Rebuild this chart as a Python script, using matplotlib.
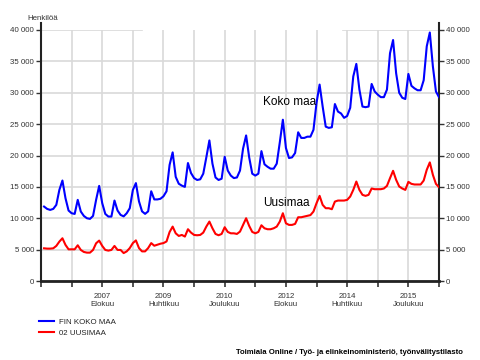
import matplotlib
matplotlib.use('Agg')
import matplotlib.pyplot as plt
from matplotlib.ticker import FuncFormatter
from matplotlib.lines import Line2D

plt.rcParams['font.family'] = ['Liberation Sans', 'DejaVu Sans']

# Kuukausittaiset arvot, tammikuu 2006 - lokakuu 2016 (Henkilöä)
koko_maa = [
    11860, 11490, 11330, 11490, 12130, 14520, 16010, 13190, 11230, 10800, 10690, 12930,  # 2006
    11070, 10370, 10000, 9900, 10370, 12930, 15160, 12400, 10690, 10270, 10270, 12820,   # 2007
    11230, 10530, 10300, 10800, 11600, 14500, 15600, 12700, 11100, 10700, 11100, 14300,  # 2008
    13000, 13000, 13100, 13500, 14300, 18500, 20500, 16600, 15500, 15200, 15000, 18800,  # 2009
    17200, 16400, 16100, 16200, 17100, 19700, 22400, 18700, 16500, 16100, 16300, 19800,  # 2010
    17600, 16800, 16400, 16500, 17600, 21100, 23200, 19700, 17100, 16800, 17100, 20700,  # 2011
    18600, 18200, 17900, 17900, 18700, 22100, 25700, 21200, 19600, 19700, 20400, 23700,  # 2012
    22800, 22800, 23000, 23000, 24100, 28400, 31300, 27800, 24600, 24400, 24500, 28200,  # 2013
    27000, 26700, 26000, 26300, 27600, 32600, 34600, 30500, 27800, 27700, 27800, 31400,  # 2014
    30200, 29700, 29300, 29300, 30500, 36300, 38400, 33100, 30000, 29200, 29000, 33000,  # 2015
    31100, 30700, 30400, 30400, 32000, 37400, 39600, 34200, 30200, 29300,                # 2016
]
uusimaa = [
    5210, 5160, 5160, 5210, 5590, 6280, 6810, 5750, 5050, 5050, 5050, 5690,
    4950, 4630, 4520, 4520, 4950, 6010, 6440, 5590, 4950, 4840, 4950, 5590,
    4950, 4950, 4450, 4720, 5250, 6040, 6470, 5250, 4720, 4720, 5250, 6040,
    5620, 5780, 5940, 6040, 6300, 7800, 8670, 7600, 7180, 7340, 7080, 8250,
    7710, 7340, 7290, 7340, 7710, 8670, 9470, 8400, 7500, 7290, 7500, 8570,
    7820, 7600, 7600, 7500, 7870, 8940, 10000, 8780, 7820, 7600, 7820, 8880,
    8400, 8250, 8250, 8400, 8670, 9470, 10800, 9200, 8940, 8940, 9100, 10160,
    10160, 10270, 10370, 10500, 11070, 12400, 13570, 12130, 11600, 11600, 11440, 12660,
    12820, 12820, 12820, 12930, 13460, 14520, 15850, 14520, 13730, 13570, 13730, 14740,
    14630, 14630, 14630, 14740, 15160, 16390, 17560, 16120, 15060, 14740, 14520, 15800,
    15480, 15380, 15380, 15380, 16010, 17720, 18900, 16920, 15480, 14950,
]
nimikkeet = ['2007\nElokuu', '2009\nHuhtikuu', '2010\nJoulukuu',
             '2012\nElokuu', '2014\nHuhtikuu', '2015\nJoulukuu']
sarjat = ['FIN KOKO MAA', '02 UUSIMAA']

kk = list(range(len(koko_maa)))

fig = plt.figure(figsize=(4.8, 3.6), dpi=100)
ax = fig.add_axes([41 / 480, 1 - 281 / 360, 398 / 480, 251 / 360])

ax.plot(kk, koko_maa, color='#0000ff', lw=1.5, zorder=3)
ax.plot(kk, uusimaa, color='#ff0000', lw=1.5, zorder=3)

# Akselit
ax.set_xlim(-1, 129)
ax.set_ylim(0, 40000)
ax.set_yticks(range(0, 40001, 5000))
ax.yaxis.set_major_formatter(FuncFormatter(lambda v, p: f'{int(v):,}'.replace(',', ' ')))
xt = list(range(-1, 130, 10))
ax.set_xticks(xt)
ax.set_xticklabels([nimikkeet[(t - 19) // 20] if t >= 19 and (t - 19) % 20 == 0 else '' for t in xt])

ax.tick_params(axis='y', left=True, right=True, labelleft=True, labelright=True,
               length=3.6, width=1, pad=1.5, labelsize=5.7, labelcolor='#333333', color='#333333')
ax.tick_params(axis='x', length=4, width=1.2, pad=5, labelsize=5.7, labelcolor='#333333',
               color='#333333')

ax.spines['top'].set_visible(False)
for s in ['left', 'right']:
    ax.spines[s].set_linewidth(1.5)
    ax.spines[s].set_color('#222222')
    ax.spines[s].set_bounds(0, 41100)
ax.spines['bottom'].set_linewidth(2)
ax.spines['bottom'].set_color('#222222')

ax.grid(color='#d9d9d9', lw=1.2, zorder=0)
ax.set_axisbelow(True)
ax.get_ygridlines()[-1].set_visible(False)
ax.axhline(40000, xmin=0, xmax=0.254, color='#d9d9d9', lw=1.2, zorder=0)
ax.axhline(40000, xmin=0.759, xmax=1, color='#d9d9d9', lw=1.2, zorder=0)

# Sarjojen nimet kuvaajassa
ax.text(71.5, 28550, 'Koko maa', fontsize=8.5, color='black', va='center')
ax.text(71.5, 12450, 'Uusimaa', fontsize=8.5, color='black', va='center')

fig.text(27 / 480, 1 - 18 / 360, 'Henkilöä', fontsize=5.7, color='#333333', va='center')

kahvat = [Line2D([], [], color='#0000ff', lw=1.5), Line2D([], [], color='#ff0000', lw=1.5)]
fig.legend(kahvat, sarjat, loc='upper left', bbox_to_anchor=(39 / 480, 1 - 318 / 360),
           frameon=False, fontsize=5.7, handlelength=1.9, handletextpad=0.6,
           labelspacing=0.5, borderpad=0, borderaxespad=0, labelcolor='#222222')

fig.text(463 / 480, 1 - 352 / 360,
         'Toimiala Online / Työ- ja elinkeinoministeriö, työnvälitystilasto',
         fontsize=5.6, fontweight='bold', ha='right', va='center', color='black')

fig.savefig('out.png', dpi=100)
